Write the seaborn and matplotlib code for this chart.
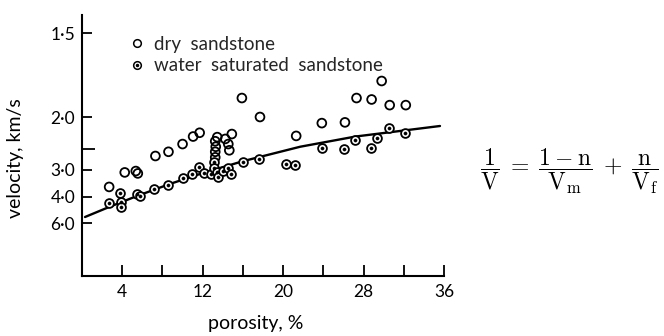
import numpy as np
import pandas as pd
import matplotlib
matplotlib.use("Agg")
import matplotlib.pyplot as plt
import seaborn as sns
from matplotlib.lines import Line2D
from matplotlib.legend_handler import HandlerTuple

# Porosity (%) and velocity (km/s) of the measured samples
dry_porosity = [2.7, 4.25, 5.35, 5.55, 7.3, 8.6, 10.0, 11.05, 11.7, 13.45, 13.25, 13.3,
                13.25, 13.25, 14.25, 14.55, 14.65, 14.9, 15.9, 17.7, 21.3, 23.85, 26.15,
                27.3, 28.8, 29.8, 30.6, 32.2]
dry_velocity = [3.57, 3.07, 3.03, 3.10, 2.65, 2.56, 2.41, 2.28, 2.22, 2.29, 2.36, 2.46,
                2.56, 2.68, 2.32, 2.41, 2.53, 2.24, 1.86, 2.00, 2.27, 2.08, 2.07,
                1.86, 1.87, 1.75, 1.91, 1.91]

wet_porosity = [2.7, 3.8, 3.85, 3.9, 5.5, 5.75, 7.15, 8.55, 10.05, 10.9, 11.6, 12.15,
                12.85, 13.1, 13.1, 13.4, 13.55, 14.05, 14.55, 14.8, 16.05, 17.6, 20.3,
                21.2, 23.85, 26.1, 27.15, 28.7, 29.3, 30.55, 32.1]
wet_velocity = [4.36, 3.83, 4.27, 4.64, 3.90, 3.97, 3.67, 3.49, 3.26, 3.13, 2.93, 3.10,
                3.13, 2.78, 2.94, 3.06, 3.20, 3.03, 2.95, 3.13, 2.78, 2.72, 2.84,
                2.86, 2.48, 2.51, 2.33, 2.48, 2.30, 2.15, 2.22]

# Fitted trend for the water saturated samples
fit_porosity = [0.3, 2.8, 5.5, 8.7, 11.8, 16.0, 21.7, 27.2, 35.6]
fit_velocity = [5.39, 4.58, 3.97, 3.46, 3.11, 2.77, 2.46, 2.28, 2.12]

velocity_ticks = [1.5, 2.0, 3.0, 4.0, 6.0]
velocity_tick_labels = ["1·5", "2·0", "3·0", "4·0", "6·0"]
minor_velocity_ticks = [2.5]
porosity_ticks = [4, 12, 20, 28, 36]
minor_porosity_ticks = [8, 16, 24, 32]

sns.set_theme(style="ticks")
plt.rcParams["font.family"] = ["Lato", "DejaVu Sans"]
plt.rcParams["mathtext.fontset"] = "cm"

dry = pd.DataFrame({"porosity": dry_porosity,
                    "slowness": 1.0 / np.asarray(dry_velocity)})
wet = pd.DataFrame({"porosity": wet_porosity,
                    "slowness": 1.0 / np.asarray(wet_velocity)})
fit = pd.DataFrame({"porosity": fit_porosity,
                    "slowness": 1.0 / np.asarray(fit_velocity)})

# Slowness axis: linear up to 0.5 s/km, compressed above that
s_knots = np.array([0.0, 0.5, 2.0 / 3.0, 1.0])
p_knots = np.array([0.0, 159.0, 243.0, 411.0])


def forward(s):
    return np.interp(s, s_knots, p_knots)


def inverse(p):
    return np.interp(p, p_knots, s_knots)


fig = plt.figure(figsize=(6.64, 3.36), dpi=100)
ax = fig.add_axes([82 / 664, 60 / 336, 362 / 664, 261 / 336])
ax.set_yscale("function", functions=(forward, inverse))

sns.lineplot(data=fit, x="porosity", y="slowness", color="black", lw=1.7,
             sort=False, ax=ax)
sns.scatterplot(data=dry, x="porosity", y="slowness", marker="o", s=40,
                facecolor="none", edgecolor="black", linewidth=1.3, ax=ax, zorder=3)
sns.scatterplot(data=wet, x="porosity", y="slowness", marker="o", s=40,
                facecolor="white", edgecolor="black", linewidth=1.3, ax=ax, zorder=3)
sns.scatterplot(data=wet, x="porosity", y="slowness", marker="o", s=5,
                color="black", edgecolor="black", linewidth=0.4, ax=ax, zorder=4)

ax.set_xlim(0, 36)
ax.set_ylim(0, inverse(261.0))

ax.set_xticks(porosity_ticks)
ax.set_xticks(minor_porosity_ticks, minor=True)
ax.set_xticklabels([str(t) for t in porosity_ticks])
ax.set_yticks(1.0 / np.asarray(velocity_ticks))
ax.set_yticklabels(velocity_tick_labels)
ax.set_yticks(1.0 / np.asarray(minor_velocity_ticks), minor=True)
ax.yaxis.set_minor_formatter(plt.NullFormatter())

ax.tick_params(axis="both", which="both", direction="in", color="black",
               labelsize=12.5, labelcolor="black")
ax.tick_params(axis="x", which="both", length=8, width=1.3, pad=6)
ax.tick_params(axis="y", which="major", length=7, width=1.3, pad=5)
ax.tick_params(axis="y", which="minor", length=9, width=1.3)

for side in ("top", "right"):
    ax.spines[side].set_visible(False)
for side in ("left", "bottom"):
    ax.spines[side].set_color("black")
    ax.spines[side].set_linewidth(1.5)

ax.set_xlabel("porosity, %", fontsize=14, color="black")
ax.set_ylabel("velocity, km/s", fontsize=14, color="black")
ax.xaxis.set_label_coords(0.48, -0.15)
ax.yaxis.set_label_coords(-0.16, 0.45)

dry_handle = Line2D([], [], ls="none", marker="o", ms=5.5, mfc="none",
                    mec="black", mew=1.1)
wet_ring = Line2D([], [], ls="none", marker="o", ms=5.5, mfc="none",
                  mec="black", mew=1.1)
wet_dot = Line2D([], [], ls="none", marker="o", ms=1.5, mfc="black", mec="black")
ax.legend(handles=[dry_handle, (wet_ring, wet_dot)],
          labels=["dry  sandstone", "water  saturated  sandstone"],
          handler_map={tuple: HandlerTuple(ndivide=1, pad=0)},
          loc="upper left", bbox_to_anchor=(0.115, 0.95), frameon=False,
          fontsize=13.5, handlelength=0.6, handletextpad=0.6, labelspacing=0.25,
          borderaxespad=0)

fig.text(0.858, 0.49,
         r"$\dfrac{1}{\mathrm{V}}\;=\;\dfrac{1-\mathrm{n}}{\mathrm{V}_{\mathrm{m}}}"
         r"\;+\;\dfrac{\mathrm{n}}{\mathrm{V}_{\mathrm{f}}}$",
         fontsize=17, ha="center", va="center", color="black")

fig.savefig("out.png", dpi=100, facecolor="white")
